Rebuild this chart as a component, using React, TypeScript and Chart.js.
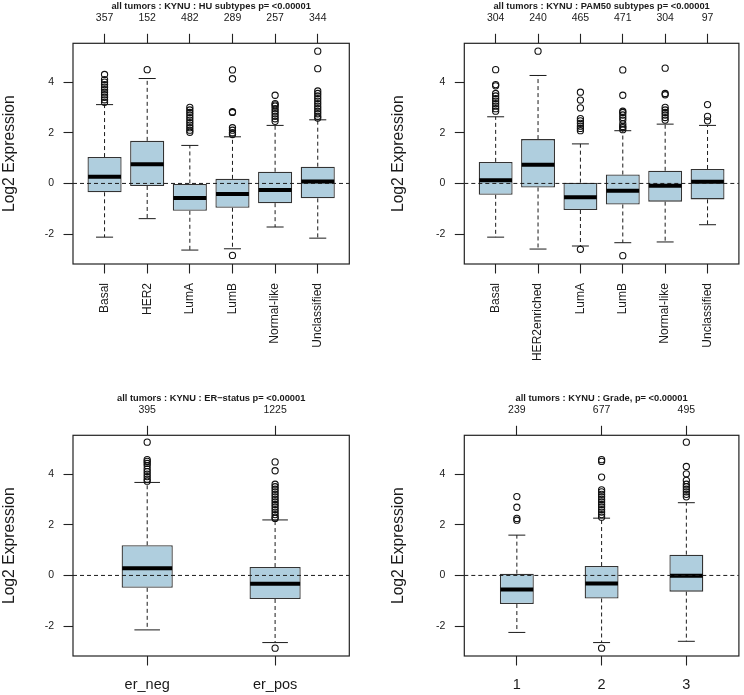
import React, { useEffect, useRef } from 'react';
import { Chart, registerables } from 'chart.js';

Chart.register(...registerables);

const FONT = '"Liberation Sans", Arial, Helvetica, sans-serif';
const INK = '#1a1a1a';
const BOX_FILL = '#AFCEDE';
const BOX_EDGE = '#333333';

const Y_MIN = -3.18;
const Y_MAX = 5.53;
const Y_TICKS = [-2, 0, 2, 4];

// ---- HU subtypes ----
const HU_TITLE = 'all tumors : KYNU : HU subtypes p= <0.00001';
const HU_LABELS = ['Basal', 'HER2', 'LumA', 'LumB', 'Normal-like', 'Unclassified'];
const HU_N = [357, 152, 482, 289, 257, 344];
const HU_LOW = [-2.12, -1.39, -2.63, -2.58, -1.72, -2.16];
const HU_Q1 = [-0.35, -0.10, -1.08, -0.96, -0.78, -0.59];
const HU_MED = [0.26, 0.76, -0.58, -0.42, -0.26, 0.08];
const HU_Q3 = [1.04, 1.68, 0.0, 0.18, 0.46, 0.66];
const HU_HIGH = [3.11, 4.14, 1.5, 1.84, 2.29, 2.51];
const HU_OUT = [
  [4.3, 4.1, 4.0, 3.9, 3.8, 3.7, 3.6, 3.5, 3.4, 3.3, 3.2],
  [4.49],
  [3.0, 2.9, 2.8, 2.7, 2.6, 2.5, 2.4, 2.3, 2.2, 2.1, 2.02],
  [4.48, 4.13, 2.83, 2.8, 2.2, 2.1, 2.0, 1.93, -2.84],
  [3.48, 3.15, 3.1, 3.05, 2.95, 2.85, 2.75, 2.65, 2.55, 2.45],
  [5.22, 4.53, 3.65, 3.55, 3.45, 3.35, 3.25, 3.15, 3.05, 2.95, 2.85, 2.75, 2.65, 2.58],
];

// ---- PAM50 subtypes ----
const PAM_TITLE = 'all tumors : KYNU : PAM50 subtypes p= <0.00001';
const PAM_LABELS = ['Basal', 'HER2enriched', 'LumA', 'LumB', 'Normal-like', 'Unclassified'];
const PAM_N = [304, 240, 465, 471, 304, 97];
const PAM_LOW = [-2.12, -2.59, -2.47, -2.34, -2.31, -1.63];
const PAM_Q1 = [-0.45, -0.16, -1.05, -0.83, -0.72, -0.63];
const PAM_MED = [0.13, 0.74, -0.55, -0.29, -0.09, 0.07];
const PAM_Q3 = [0.85, 1.75, 0.03, 0.35, 0.5, 0.57];
const PAM_HIGH = [2.63, 4.26, 1.56, 2.08, 2.34, 2.29];
const PAM_OUT = [
  [4.49, 3.9, 3.85, 3.55, 3.45, 3.35, 3.25, 3.15, 3.05, 2.95, 2.85],
  [5.22],
  [3.6, 3.29, 2.98, 2.56, 2.47, 2.37, 2.26, 2.17, 2.08, -2.6],
  [4.48, 3.48, 2.85, 2.8, 2.7, 2.6, 2.5, 2.35, 2.25, 2.2, 2.12, -2.85],
  [4.55, 3.55, 3.5, 3.0, 2.9, 2.8, 2.7, 2.6, 2.5],
  [3.11, 2.65, 2.47],
];

// ---- ER status ----
const ER_TITLE = 'all tumors : KYNU : ER\u2212status p= <0.00001';
const ER_LABELS = ['er_neg', 'er_pos'];
const ER_N = [395, 1225];
const ER_LOW = [-2.15, -2.65];
const ER_Q1 = [-0.49, -0.93];
const ER_MED = [0.28, -0.33];
const ER_Q3 = [1.19, 0.33];
const ER_HIGH = [3.67, 2.19];
const ER_OUT = [
  [5.26, 4.57, 4.5, 4.42, 4.33, 4.2, 4.1, 4.0, 3.9, 3.8, 3.72],
  [4.48, 4.13, 3.6, 3.5, 3.4, 3.3, 3.2, 3.1, 3.0, 2.9, 2.8, 2.7, 2.6, 2.5, 2.4, 2.3, 2.25, -2.87],
];

// ---- Grade ----
const GR_TITLE = 'all tumors : KYNU : Grade, p= <0.00001';
const GR_LABELS = ['1', '2', '3'];
const GR_N = [239, 677, 495];
const GR_LOW = [-2.25, -2.65, -2.6];
const GR_Q1 = [-1.13, -0.91, -0.64];
const GR_MED = [-0.56, -0.32, -0.01];
const GR_Q3 = [0.07, 0.37, 0.82];
const GR_HIGH = [1.59, 2.26, 2.87];
const GR_OUT = [
  [3.11, 2.69, 2.25, 2.18],
  [4.57, 4.5, 3.88, 3.38, 3.3, 3.2, 3.1, 3.0, 2.9, 2.8, 2.7, 2.6, 2.5, 2.4, 2.3, -2.87],
  [5.26, 4.3, 4.01, 3.75, 3.6, 3.5, 3.4, 3.3, 3.2, 3.1],
];

type PanelDef = {
  title: string;
  labels: string[];
  n: number[];
  low: number[];
  q1: number[];
  med: number[];
  q3: number[];
  high: number[];
  out: number[][];
  boxWidth: number;
  left: number;
  top: number;
  width: number;
  height: number;
  yAxisWidth: number;
  padRight: number;
  yTitlePad: number;
  rotate: boolean;
  xFont: number;
};

const PLOT_TOP = 43.3;
const PLOT_BOTTOM = 264;

const PANELS: PanelDef[] = [
  {
    title: HU_TITLE, labels: HU_LABELS, n: HU_N, low: HU_LOW, q1: HU_Q1, med: HU_MED, q3: HU_Q3,
    high: HU_HIGH, out: HU_OUT, boxWidth: 0.8,
    left: 0, top: 0, width: 372, height: 392, yAxisWidth: 73, padRight: 22.7, yTitlePad: 0, rotate: true, xFont: 12,
  },
  {
    title: PAM_TITLE, labels: PAM_LABELS, n: PAM_N, low: PAM_LOW, q1: PAM_Q1, med: PAM_MED, q3: PAM_Q3,
    high: PAM_HIGH, out: PAM_OUT, boxWidth: 0.8,
    left: 372, top: 0, width: 372, height: 392, yAxisWidth: 92.3, padRight: 3, yTitlePad: 17.4, rotate: true, xFont: 12,
  },
  {
    title: ER_TITLE, labels: ER_LABELS, n: ER_N, low: ER_LOW, q1: ER_Q1, med: ER_MED, q3: ER_Q3,
    high: ER_HIGH, out: ER_OUT, boxWidth: 0.4,
    left: 0, top: 392, width: 372, height: 303, yAxisWidth: 73, padRight: 22.7, yTitlePad: 0, rotate: false, xFont: 14.5,
  },
  {
    title: GR_TITLE, labels: GR_LABELS, n: GR_N, low: GR_LOW, q1: GR_Q1, med: GR_MED, q3: GR_Q3,
    high: GR_HIGH, out: GR_OUT, boxWidth: 0.4,
    left: 372, top: 392, width: 372, height: 303, yAxisWidth: 92.3, padRight: 3, yTitlePad: 17.4, rotate: false, xFont: 14.5,
  },
];

function BoxPanel({ p }: { p: PanelDef }) {
  const ref = useRef<HTMLCanvasElement>(null);

  useEffect(() => {
    const canvas = ref.current;
    if (!canvas) return;
    const k = p.labels.length;
    const ext = 0.04 * k;
    const xmin = 0.5 - ext;
    const xmax = k + 0.5 + ext;

    const boxData = p.labels.map((_, i) => ({ x: i + 1, y: [p.q1[i], p.q3[i]] }));
    const outData: { x: number; y: number }[] = [];
    p.out.forEach((arr, i) => arr.forEach((v) => outData.push({ x: i + 1, y: v })));

    const boxParts = {
      id: 'boxParts',
      beforeDatasetsDraw(chart: any) {
        const { ctx, chartArea } = chart;
        const xs = chart.scales.x;
        const ys = chart.scales.y;
        const capHalf = Math.abs(xs.getPixelForValue(1 + p.boxWidth / 4) - xs.getPixelForValue(1));
        ctx.save();
        ctx.beginPath();
        ctx.rect(chartArea.left, chartArea.top, chartArea.right - chartArea.left, chartArea.bottom - chartArea.top);
        ctx.clip();
        ctx.strokeStyle = INK;
        ctx.lineWidth = 1;
        for (let i = 0; i < k; i++) {
          const px = xs.getPixelForValue(i + 1);
          ctx.setLineDash([4, 3]);
          ctx.beginPath();
          ctx.moveTo(px, ys.getPixelForValue(p.q3[i]));
          ctx.lineTo(px, ys.getPixelForValue(p.high[i]));
          ctx.moveTo(px, ys.getPixelForValue(p.q1[i]));
          ctx.lineTo(px, ys.getPixelForValue(p.low[i]));
          ctx.stroke();
          ctx.setLineDash([]);
          ctx.beginPath();
          const yh = ys.getPixelForValue(p.high[i]);
          const yl = ys.getPixelForValue(p.low[i]);
          ctx.moveTo(px - capHalf, yh);
          ctx.lineTo(px + capHalf, yh);
          ctx.moveTo(px - capHalf, yl);
          ctx.lineTo(px + capHalf, yl);
          ctx.stroke();
        }
        ctx.restore();
      },
      afterDatasetsDraw(chart: any) {
        const { ctx, chartArea } = chart;
        const xs = chart.scales.x;
        const ys = chart.scales.y;
        const half = Math.abs(xs.getPixelForValue(1 + p.boxWidth / 2) - xs.getPixelForValue(1));
        ctx.save();
        ctx.beginPath();
        ctx.rect(chartArea.left, chartArea.top, chartArea.right - chartArea.left, chartArea.bottom - chartArea.top);
        ctx.clip();
        ctx.strokeStyle = '#000';
        ctx.lineWidth = 4;
        ctx.lineCap = 'butt';
        for (let i = 0; i < k; i++) {
          const px = xs.getPixelForValue(i + 1);
          const ym = ys.getPixelForValue(p.med[i]);
          ctx.beginPath();
          ctx.moveTo(px - half + 0.6, ym);
          ctx.lineTo(px + half - 0.6, ym);
          ctx.stroke();
        }
        const y0 = ys.getPixelForValue(0);
        ctx.lineWidth = 1;
        ctx.strokeStyle = INK;
        ctx.setLineDash([4, 3]);
        ctx.beginPath();
        ctx.moveTo(chartArea.left, y0);
        ctx.lineTo(chartArea.right, y0);
        ctx.stroke();
        ctx.restore();
      },
      afterDraw(chart: any) {
        const { ctx, chartArea } = chart;
        ctx.save();
        ctx.strokeStyle = '#222';
        ctx.lineWidth = 1.2;
        ctx.strokeRect(chartArea.left, chartArea.top, chartArea.right - chartArea.left, chartArea.bottom - chartArea.top);
        ctx.restore();
      },
    };

    const tickGrid = {
      offset: false,
      drawOnChartArea: false,
      drawTicks: true,
      tickLength: 9.5,
      tickColor: '#222',
      tickWidth: 1.1,
    };

    const chart = new Chart(canvas, {
      type: 'bar',
      data: {
        datasets: [
          {
            type: 'bar',
            data: boxData as any,
            xAxisID: 'x',
            yAxisID: 'y',
            backgroundColor: BOX_FILL,
            borderColor: BOX_EDGE,
            borderWidth: 1.3,
            borderSkipped: false,
            categoryPercentage: p.boxWidth,
            barPercentage: 1,
            order: 2,
          } as any,
          {
            type: 'scatter',
            data: outData,
            xAxisID: 'x',
            yAxisID: 'y',
            showLine: false,
            pointStyle: 'circle',
            pointRadius: 3.1,
            pointBorderWidth: 1.1,
            pointBackgroundColor: 'rgba(0,0,0,0)',
            pointBorderColor: '#111',
            order: 1,
          } as any,
        ],
      },
      options: {
        responsive: false,
        animation: false,
        devicePixelRatio: 1,
        events: [],
        layout: { padding: { left: 0, top: 0, right: p.padRight, bottom: 0 } },
        plugins: {
          legend: { display: false },
          title: { display: false },
          tooltip: { enabled: false },
        },
        scales: {
          x: {
            type: 'linear',
            position: 'bottom',
            min: xmin,
            max: xmax,
            offset: false,
            grid: tickGrid,
            border: { display: false },
            afterBuildTicks: (s: any) => {
              s.ticks = p.labels.map((_, i) => ({ value: i + 1 }));
            },
            afterFit: (s: any) => {
              s.height = p.height - PLOT_BOTTOM;
            },
            ticks: {
              autoSkip: false,
              minRotation: p.rotate ? 90 : 0,
              maxRotation: p.rotate ? 90 : 0,
              padding: p.rotate ? 9.5 : 10.5,
              color: INK,
              font: { size: p.xFont, family: FONT },
              callback: (v: any) => p.labels[Math.round(Number(v)) - 1] ?? '',
            },
          },
          x2: {
            type: 'linear',
            axis: 'x',
            position: 'top',
            min: xmin,
            max: xmax,
            offset: false,
            grid: tickGrid,
            border: { display: false },
            afterBuildTicks: (s: any) => {
              s.ticks = p.labels.map((_, i) => ({ value: i + 1 }));
            },
            afterFit: (s: any) => {
              s.height = PLOT_TOP;
            },
            ticks: {
              autoSkip: false,
              minRotation: 0,
              maxRotation: 0,
              padding: 9.5,
              color: INK,
              font: { size: 10.5, family: FONT },
              callback: (v: any) => String(p.n[Math.round(Number(v)) - 1] ?? ''),
            },
            title: {
              display: true,
              text: p.title,
              color: INK,
              font: { size: 9.3, weight: 'bold', family: FONT },
              padding: { top: 0.5, bottom: 0 },
            },
          },
          y: {
            type: 'linear',
            position: 'left',
            min: Y_MIN,
            max: Y_MAX,
            grid: tickGrid,
            border: { display: false },
            afterBuildTicks: (s: any) => {
              s.ticks = Y_TICKS.map((v) => ({ value: v }));
            },
            afterFit: (s: any) => {
              s.width = p.yAxisWidth;
            },
            ticks: {
              padding: 9.5,
              color: INK,
              font: { size: 10.5, family: FONT },
              callback: (v: any) => String(v),
            },
            title: {
              display: true,
              text: 'Log2 Expression',
              color: INK,
              font: { size: 15.7, family: FONT },
              padding: { top: p.yTitlePad, bottom: 0 },
            },
          },
        } as any,
      },
      plugins: [boxParts],
    } as any);

    return () => {
      chart.destroy();
    };
  }, [p]);

  return (
    <canvas
      ref={ref}
      width={p.width}
      height={p.height}
      style={{ position: 'absolute', left: p.left, top: p.top, width: p.width, height: p.height }}
    />
  );
}

export default function App() {
  return (
    <div
      style={{
        position: 'absolute',
        left: 0,
        top: 0,
        width: 744,
        height: 695,
        background: '#ffffff',
        overflow: 'hidden',
        fontFamily: FONT,
      }}
    >
      {PANELS.map((p, i) => (
        <BoxPanel key={i} p={p} />
      ))}
    </div>
  );
}
